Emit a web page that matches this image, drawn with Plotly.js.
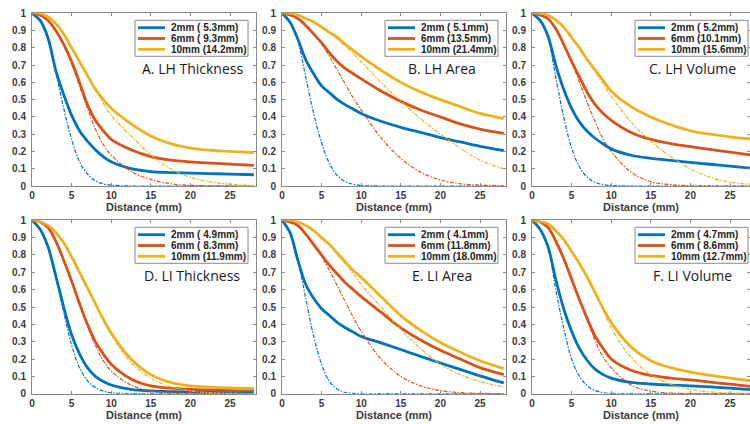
<!DOCTYPE html>
<html>
<head>
<meta charset="utf-8">
<script src="https://cdn.plot.ly/plotly-3.0.1.min.js"></script>
<style>html,body{margin:0;padding:0;background:#fff;}#chart{width:750px;height:424px;}</style>
</head>
<body>
<div id="chart"></div>
<script>
// ---------------- data ----------------
const dist = [0, 1, 2, 3, 4, 5, 6, 7, 8, 9, 10, 12.5, 15, 17.5, 20, 22.5, 25, 28];
const xTicks = [0, 5, 10, 15, 20, 25];
const yTicks = [0, 0.1, 0.2, 0.3, 0.4, 0.5, 0.6, 0.7, 0.8, 0.9, 1];
const yTickText = ["0", "0.1", "0.2", "0.3", "0.4", "0.5", "0.6", "0.7", "0.8", "0.9", "1"];
const xTitle = "Distance (mm)";
const kernels = ["2mm", "6mm", "10mm"];
const panelTitles = ["A. LH Thickness", "B. LH Area", "C. LH Volume",
                     "D. LI Thickness", "E. LI Area", "F. LI Volume"];
const fwhmA = ["( 5.3mm)", "( 9.3mm)", "(14.2mm)"];
const fwhmB = ["( 5.1mm)", "(13.5mm)", "(21.4mm)"];
const fwhmC = ["( 5.2mm)", "(10.1mm)", "(15.6mm)"];
const fwhmD = ["( 4.9mm)", "( 8.3mm)", "(11.9mm)"];
const fwhmE = ["( 4.1mm)", "(11.8mm)", "(18.0mm)"];
const fwhmF = ["( 4.7mm)", "( 8.6mm)", "(12.7mm)"];

// A. LH Thickness  (solid = measured, gauss = dashed)
const aSolid2  = [1, 0.96, 0.86, 0.67, 0.53, 0.41, 0.32, 0.26, 0.21, 0.17, 0.14, 0.1, 0.083, 0.078, 0.075, 0.072, 0.069, 0.065];
const aSolid6  = [1, 0.99, 0.96, 0.9, 0.82, 0.72, 0.6, 0.47, 0.38, 0.32, 0.27, 0.21, 0.17, 0.15, 0.14, 0.133, 0.127, 0.12];
const aSolid10 = [1, 1, 0.98, 0.94, 0.88, 0.8, 0.72, 0.64, 0.56, 0.5, 0.45, 0.36, 0.29, 0.245, 0.22, 0.207, 0.2, 0.193];
const aGauss2  = [1, 0.96, 0.85, 0.66, 0.45, 0.27, 0.14, 0.07, 0.03, 0.012, 0.005, 0, 0, 0, 0, 0, 0, 0];
const aGauss6  = [1, 0.99, 0.96, 0.9, 0.82, 0.71, 0.58, 0.45, 0.33, 0.24, 0.18, 0.085, 0.038, 0.013, 0.004, 0.001, 0, 0];
const aGauss10 = [1, 1, 0.98, 0.94, 0.88, 0.8, 0.72, 0.64, 0.56, 0.48, 0.41, 0.29, 0.18, 0.1, 0.05, 0.024, 0.01, 0.003];

// B. LH Area
const bSolid2  = [1, 0.95, 0.85, 0.73, 0.65, 0.58, 0.54, 0.5, 0.47, 0.445, 0.42, 0.375, 0.34, 0.31, 0.28, 0.255, 0.23, 0.205];
const bSolid6  = [1, 0.99, 0.97, 0.93, 0.88, 0.83, 0.77, 0.72, 0.68, 0.65, 0.62, 0.55, 0.49, 0.44, 0.4, 0.36, 0.33, 0.305];
const bSolid10 = [1, 1, 0.99, 0.97, 0.95, 0.92, 0.89, 0.86, 0.82, 0.785, 0.75, 0.67, 0.6, 0.545, 0.5, 0.46, 0.42, 0.39];
const bGauss2  = [1, 0.95, 0.84, 0.63, 0.42, 0.25, 0.13, 0.06, 0.025, 0.01, 0.003, 0, 0, 0, 0, 0, 0, 0];
const bGauss6  = [1, 0.99, 0.97, 0.93, 0.88, 0.82, 0.75, 0.67, 0.59, 0.51, 0.44, 0.28, 0.16, 0.08, 0.035, 0.013, 0.005, 0.001];
const bGauss10 = [1, 1, 0.99, 0.97, 0.95, 0.92, 0.89, 0.85, 0.81, 0.765, 0.72, 0.6, 0.49, 0.39, 0.3, 0.22, 0.15, 0.1];

// C. LH Volume
const cSolid2  = [1, 0.96, 0.87, 0.7, 0.56, 0.45, 0.37, 0.315, 0.275, 0.243, 0.215, 0.178, 0.16, 0.148, 0.137, 0.126, 0.115, 0.101];
const cSolid6  = [1, 0.99, 0.97, 0.91, 0.82, 0.72, 0.63, 0.54, 0.47, 0.42, 0.38, 0.31, 0.27, 0.246, 0.228, 0.212, 0.196, 0.177];
const cSolid10 = [1, 1, 0.99, 0.96, 0.92, 0.86, 0.8, 0.73, 0.67, 0.61, 0.55, 0.46, 0.4, 0.355, 0.32, 0.3, 0.285, 0.27];
const cGauss2  = [1, 0.96, 0.86, 0.63, 0.4, 0.22, 0.11, 0.05, 0.02, 0.008, 0.003, 0, 0, 0, 0, 0, 0, 0];
const cGauss6  = [1, 0.99, 0.97, 0.91, 0.82, 0.72, 0.6, 0.48, 0.37, 0.27, 0.2, 0.08, 0.025, 0.008, 0.002, 0, 0, 0];
const cGauss10 = [1, 1, 0.99, 0.96, 0.92, 0.86, 0.8, 0.73, 0.66, 0.59, 0.52, 0.37, 0.26, 0.17, 0.1, 0.05, 0.022, 0.009];

// D. LI Thickness
const dSolid2  = [1, 0.95, 0.85, 0.68, 0.5, 0.34, 0.23, 0.15, 0.1, 0.07, 0.05, 0.025, 0.016, 0.012, 0.01, 0.01, 0.01, 0.01];
const dSolid6  = [1, 0.99, 0.96, 0.88, 0.77, 0.65, 0.52, 0.4, 0.3, 0.23, 0.17, 0.085, 0.045, 0.032, 0.025, 0.022, 0.02, 0.02];
const dSolid10 = [1, 0.99, 0.97, 0.93, 0.87, 0.79, 0.7, 0.61, 0.52, 0.43, 0.35, 0.2, 0.11, 0.065, 0.045, 0.038, 0.033, 0.03];
const dGauss2  = [1, 0.95, 0.85, 0.68, 0.47, 0.28, 0.15, 0.075, 0.035, 0.015, 0.005, 0.001, 0, 0, 0, 0, 0, 0];
const dGauss6  = [1, 0.99, 0.96, 0.88, 0.77, 0.65, 0.52, 0.39, 0.28, 0.19, 0.13, 0.05, 0.016, 0.005, 0.002, 0, 0, 0];
const dGauss10 = [1, 0.99, 0.97, 0.93, 0.87, 0.79, 0.7, 0.61, 0.52, 0.43, 0.34, 0.18, 0.09, 0.04, 0.016, 0.006, 0.002, 0.001];

// E. LI Area
const eSolid2  = [1, 0.93, 0.77, 0.63, 0.55, 0.49, 0.45, 0.41, 0.38, 0.355, 0.33, 0.293, 0.255, 0.215, 0.177, 0.14, 0.103, 0.062];
const eSolid6  = [1, 0.99, 0.97, 0.92, 0.86, 0.8, 0.74, 0.69, 0.64, 0.6, 0.56, 0.47, 0.38, 0.31, 0.25, 0.2, 0.15, 0.11];
const eSolid10 = [1, 1, 0.99, 0.97, 0.94, 0.9, 0.86, 0.81, 0.76, 0.71, 0.67, 0.56, 0.45, 0.365, 0.295, 0.24, 0.19, 0.145];
const eGauss2  = [1, 0.93, 0.77, 0.55, 0.33, 0.17, 0.07, 0.025, 0.007, 0.002, 0, 0, 0, 0, 0, 0, 0, 0];
const eGauss6  = [1, 0.99, 0.97, 0.92, 0.86, 0.79, 0.71, 0.62, 0.53, 0.44, 0.36, 0.2, 0.1, 0.045, 0.018, 0.006, 0.002, 0];
const eGauss10 = [1, 1, 0.99, 0.97, 0.94, 0.9, 0.86, 0.8, 0.75, 0.69, 0.63, 0.5, 0.37, 0.26, 0.17, 0.11, 0.07, 0.04];

// F. LI Volume
const fSolid2  = [1, 0.95, 0.85, 0.66, 0.49, 0.36, 0.26, 0.19, 0.14, 0.11, 0.09, 0.065, 0.056, 0.05, 0.045, 0.039, 0.032, 0.022];
const fSolid6  = [1, 0.99, 0.96, 0.88, 0.78, 0.66, 0.54, 0.43, 0.33, 0.26, 0.2, 0.135, 0.105, 0.09, 0.08, 0.067, 0.055, 0.04];
const fSolid10 = [1, 0.99, 0.98, 0.94, 0.89, 0.82, 0.75, 0.67, 0.58, 0.49, 0.41, 0.27, 0.19, 0.15, 0.125, 0.105, 0.09, 0.072];
const fGauss2  = [1, 0.95, 0.85, 0.6, 0.38, 0.2, 0.1, 0.045, 0.018, 0.006, 0.002, 0, 0, 0, 0, 0, 0, 0];
const fGauss6  = [1, 0.99, 0.96, 0.88, 0.78, 0.66, 0.54, 0.42, 0.3, 0.21, 0.15, 0.05, 0.015, 0.004, 0.001, 0, 0, 0];
const fGauss10 = [1, 0.99, 0.98, 0.94, 0.89, 0.82, 0.75, 0.67, 0.58, 0.48, 0.38, 0.21, 0.11, 0.055, 0.025, 0.01, 0.004, 0.001];

// ---------------- assembly ----------------
const panels = [
  {solid: [aSolid2, aSolid6, aSolid10], gauss: [aGauss2, aGauss6, aGauss10], fwhm: fwhmA},
  {solid: [bSolid2, bSolid6, bSolid10], gauss: [bGauss2, bGauss6, bGauss10], fwhm: fwhmB},
  {solid: [cSolid2, cSolid6, cSolid10], gauss: [cGauss2, cGauss6, cGauss10], fwhm: fwhmC},
  {solid: [dSolid2, dSolid6, dSolid10], gauss: [dGauss2, dGauss6, dGauss10], fwhm: fwhmD},
  {solid: [eSolid2, eSolid6, eSolid10], gauss: [eGauss2, eGauss6, eGauss10], fwhm: fwhmE},
  {solid: [fSolid2, fSolid6, fSolid10], gauss: [fGauss2, fGauss6, fGauss10], fwhm: fwhmF}
];

const colors = ["#0072BD", "#D95319", "#EDB120"];
const W = 750, H = 424;
const pxPerMm = 7.92;
const colLeft = [32, 282, 532];
const plotW = 224;
const rowTop = [13.3, 220.3];
const rowBottom = [186, 393.7];

const tickFont = {family: "Liberation Sans, Arial, sans-serif", size: 10, color: "#3a3a3a", weight: "bold"};
const data = [];
const layout = {
  width: W, height: H,
  margin: {l: 0, r: 0, t: 0, b: 0},
  paper_bgcolor: "#ffffff", plot_bgcolor: "#ffffff",
  showlegend: false,
  shapes: [], annotations: []
};

panels.forEach((p, i) => {
  const r = Math.floor(i / 3), c = i % 3;
  const L = colLeft[c];
  const R = Math.min(L + plotW, W);
  const T = rowTop[r], B = rowBottom[r];
  const xa = "xaxis" + (i === 0 ? "" : i + 1);
  const ya = "yaxis" + (i === 0 ? "" : i + 1);
  const xr = "x" + (i === 0 ? "" : i + 1);
  const yr = "y" + (i === 0 ? "" : i + 1);
  const axCommon = {
    showline: true, linecolor: "#8a8a8a", linewidth: 1, mirror: "ticks",
    ticks: "inside", ticklen: 3, tickcolor: "#8a8a8a", tickwidth: 1,
    showgrid: false, zeroline: false, fixedrange: true, tickfont: tickFont
  };
  layout[xa] = Object.assign({}, axCommon, {
    domain: [L / W, R / W], range: [0, (R - L) / pxPerMm], anchor: yr,
    tickvals: xTicks, ticktext: xTicks.map(String),
    title: {text: xTitle, standoff: 3, font: {family: "Liberation Sans, Arial, sans-serif", size: 11, color: "#3a3a3a", weight: "bold"}}
  });
  layout[ya] = Object.assign({}, axCommon, {
    domain: [1 - B / H, 1 - T / H], range: [0, 1], anchor: xr,
    tickvals: yTicks, ticktext: yTickText, ticklabelstandoff: 3
  });
  p.solid.forEach((vals, k) => {
    data.push({x: dist, y: vals, xaxis: xr, yaxis: yr, type: "scatter", mode: "lines",
      line: {color: colors[k], width: 2.8, shape: "spline", smoothing: 1}, hoverinfo: "skip"});
  });
  p.gauss.forEach((vals, k) => {
    data.push({x: dist, y: vals, xaxis: xr, yaxis: yr, type: "scatter", mode: "lines",
      line: {color: colors[k], width: 1.2, dash: "4px,1.5px,1.5px,1.5px", shape: "spline", smoothing: 1}, hoverinfo: "skip"});
  });
  const bx0 = L + 103, bx1 = L + 216, by0 = T + 7, by1 = T + 43;
  layout.shapes.push({type: "rect", xref: "paper", yref: "paper",
    x0: bx0 / W, x1: Math.min(bx1, W - 1) / W, y0: 1 - by1 / H, y1: 1 - by0 / H,
    line: {color: "#8a8a8a", width: 1}, fillcolor: "#ffffff", layer: "above"});
  kernels.forEach((kname, k) => {
    const yy = T + 14.4 + k * 10.8;
    layout.shapes.push({type: "line", xref: "paper", yref: "paper",
      x0: (bx0 + 3) / W, x1: (bx0 + 30) / W, y0: 1 - yy / H, y1: 1 - yy / H,
      line: {color: colors[k], width: 2.8}, layer: "above"});
    layout.annotations.push({xref: "paper", yref: "paper", x: (bx0 + 34) / W, y: 1 - yy / H,
      xanchor: "left", yanchor: "middle", showarrow: false,
      text: kname + " " + p.fwhm[k],
      font: {family: "Liberation Sans, Arial, sans-serif", size: 10, color: "#222", weight: "bold"}});
  });
  layout.annotations.push({xref: "paper", yref: "paper", x: (L + 160) / W, y: 1 - (T + 55) / H,
    xanchor: "center", yanchor: "middle", showarrow: false, text: panelTitles[i],
    font: {family: "Open Sans, Liberation Sans, sans-serif", size: 14, color: "#1a1a1a"}});
});

Plotly.newPlot("chart", data, layout, {staticPlot: true, displayModeBar: false});
</script>
</body>
</html>
